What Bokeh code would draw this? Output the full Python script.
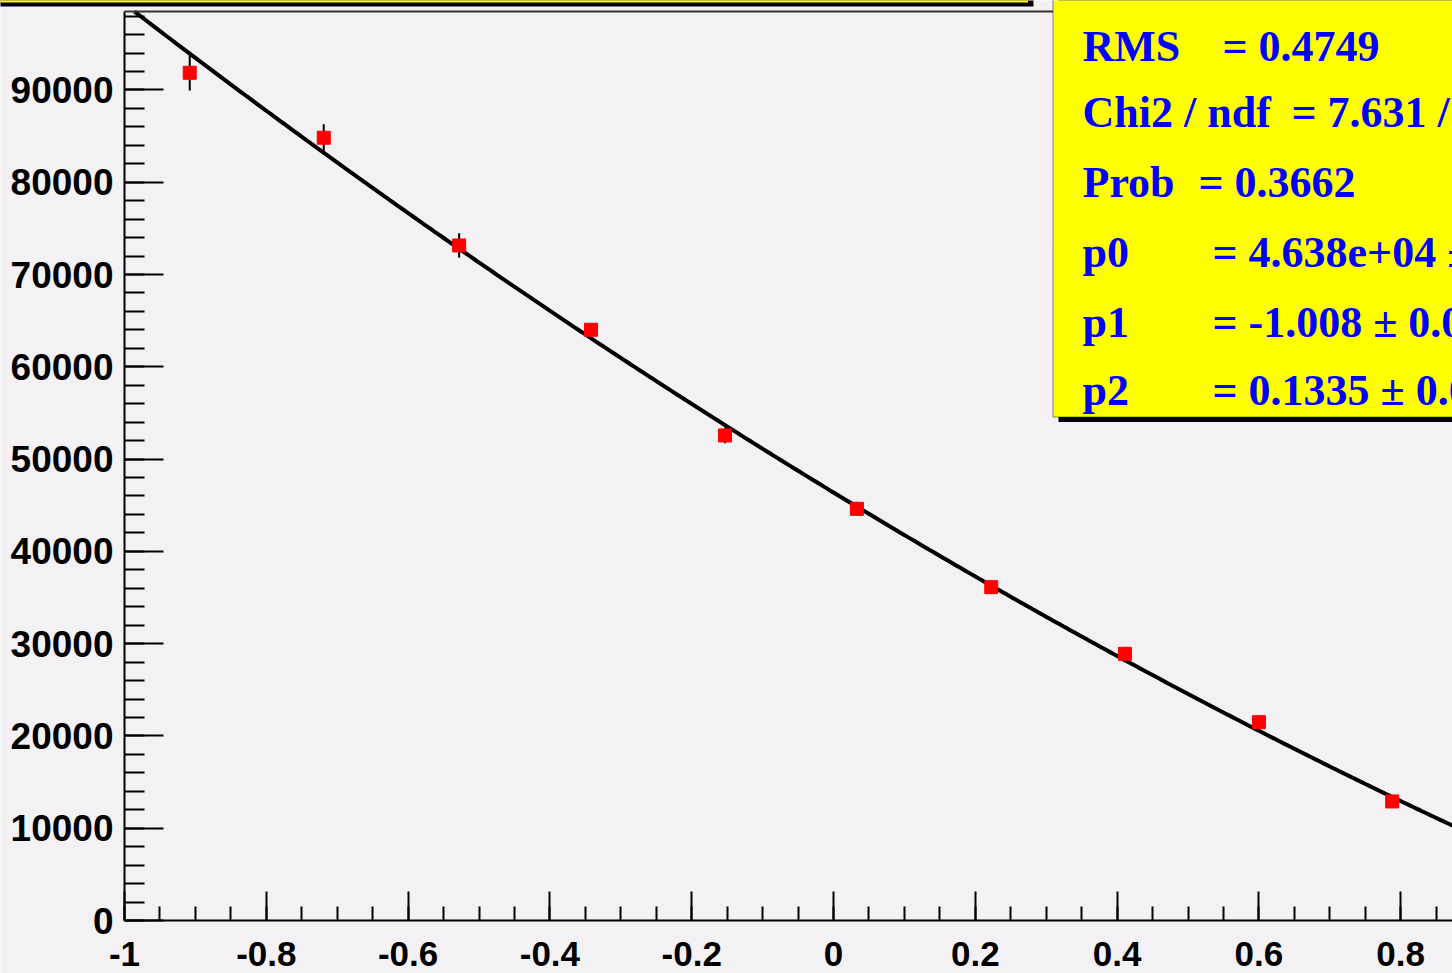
import numpy as np
from bokeh.plotting import figure
from bokeh.models import (SingleIntervalTicker, CustomJSTickFormatter, BoxAnnotation,
                          Label, Range1d)
from bokeh.embed import file_html
from bokeh.resources import INLINE

# Angular distribution: bin centres, counts and their errors
cos_theta = [-0.908, -0.719, -0.528, -0.342, -0.153, 0.033, 0.2225, 0.411, 0.600, 0.788]
counts = [91860, 84820, 73150, 64010, 52560, 44610, 36120, 28900, 21490, 12900]
count_err = [1930, 1450, 1320, 650, 850, 750, 700, 600, 550, 500]

# Fit result p0 * (1 + p1*x + p2*x^2), as quoted in the stats box
p0, p1, p2 = 4.638e4, -1.008, 0.1335

stats_names = ["RMS", "Chi2 / ndf", "Prob", "p0", "p1", "p2"]
stats_values = ["= 0.4749", "= 7.631 /", "= 0.3662",
                "= 4.638e+04 \u00b1", "= -1.008 \u00b1 0.0", "= 0.1335 \u00b1 0.0"]

BG = "#f4f1f4"
YELLOW = "#ffff00"

# Canvas layout: the plotting area covers the whole canvas and the two
# axes are pinned at x = -1 and y = 0, like a ROOT pad with its margins.
W, H = 1452, 973
AXIS_X_PX, AXIS_Y_PX, FRAME_TOP_PX = 124, 920, 11
XLO = -1.0
YTOP = 98500.0                      # upper edge of the histogram frame
SX = 709.0                          # pixels per unit of cos(theta)
SY = (AXIS_Y_PX - FRAME_TOP_PX) / YTOP


def cx(px):
    return XLO + (px - AXIS_X_PX) / SX


def cy(py):
    return (AXIS_Y_PX - py) / SY


XHI = cx(W)

p = figure(width=W, height=H,
           x_range=Range1d(cx(0), cx(W)), y_range=Range1d(cy(H), cy(0)),
           output_backend="svg", toolbar_location=None,
           min_border=0, min_border_left=0, min_border_right=0,
           min_border_top=0, min_border_bottom=0,
           background_fill_color=BG, border_fill_color=BG,
           outline_line_color=None)
p.xgrid.visible = False
p.ygrid.visible = False

# axes in the ROOT style: ticks pointing into the frame
p.xaxis.fixed_location = 0
p.yaxis.fixed_location = XLO
p.xaxis.bounds = (XLO, XHI)
p.yaxis.bounds = (0, YTOP)
p.xaxis.ticker = SingleIntervalTicker(interval=0.2, num_minor_ticks=4)
p.yaxis.ticker = SingleIntervalTicker(interval=10000, num_minor_ticks=5)
p.xaxis.formatter = CustomJSTickFormatter(code="return String(Math.round(tick*10)/10)")
p.yaxis.formatter = CustomJSTickFormatter(code="return String(Math.round(tick))")

for ax in (p.xaxis, p.yaxis):
    ax.major_tick_out = 0
    ax.minor_tick_out = 0
    ax.major_tick_line_width = 2
    ax.minor_tick_line_width = 2
    ax.major_tick_line_color = "black"
    ax.minor_tick_line_color = "black"
    ax.axis_line_width = 2
    ax.axis_line_color = "black"
    ax.major_label_text_font = "Liberation Sans"
    ax.major_label_text_font_style = "bold"
    ax.major_label_text_color = "black"

p.xaxis.major_tick_in = 29
p.xaxis.minor_tick_in = 14
p.xaxis.major_label_text_font_size = "35px"
p.xaxis.major_label_standoff = 21

p.yaxis.major_tick_in = 39
p.yaxis.minor_tick_in = 20
p.yaxis.major_label_text_font_size = "37px"
p.yaxis.major_label_standoff = 11

# top edge of the histogram frame
p.add_layout(BoxAnnotation(left=XLO, right=cx(W + 10), bottom=cy(FRAME_TOP_PX + 1),
                           top=cy(FRAME_TOP_PX - 1), fill_color="#333333",
                           fill_alpha=1.0, line_color=None))

# fitted curve
xs = np.linspace(XLO, XHI, 400)
fit = p0 * (1 + p1 * xs + p2 * xs ** 2)
fit = np.where(fit <= YTOP, fit, np.nan)
p.line(xs, fit, line_color="black", line_width=4)

# data points with vertical error bars
lo = [c - e for c, e in zip(counts, count_err)]
hi = [c + e for c, e in zip(counts, count_err)]
p.segment(x0=cos_theta, y0=lo, x1=cos_theta, y1=hi, line_color="black", line_width=2)
p.scatter(cos_theta, counts, marker="square", size=13, color="red", line_color="red")

# title pave (only its lower edge shows) with shadow
p.add_layout(BoxAnnotation(left=cx(-20), right=cx(1033), top=cy(-40), bottom=cy(6),
                           fill_color="black", fill_alpha=1.0, line_color=None))
p.add_layout(BoxAnnotation(left=cx(-20), right=cx(1027.5), top=cy(-40), bottom=cy(2),
                           fill_color=YELLOW, fill_alpha=1.0, line_color=None))

# stats pave with shadow
p.add_layout(BoxAnnotation(left=cx(1058), right=cx(W + 30), top=cy(-40), bottom=cy(421.5),
                           fill_color="black", fill_alpha=1.0, line_color=None))
p.add_layout(BoxAnnotation(left=cx(1052.5), right=cx(W + 30), top=cy(-40), bottom=cy(416.5),
                           fill_color=YELLOW, fill_alpha=1.0,
                           line_color="black", line_width=1.5))

name_x = 1082
value_x = [1222, 1291, 1198, 1212, 1212, 1212]
baselines = [46, 112, 182, 252, 322, 390]
for name, val, vx, by in zip(stats_names, stats_values, value_x, baselines):
    for txt, tx in ((name, name_x), (val, vx)):
        p.add_layout(Label(x=cx(tx), y=cy(by), text=txt,
                           text_font="Liberation Serif", text_font_style="bold",
                           text_font_size="44px", text_color="#0000ff",
                           text_align="left", text_baseline="alphabetic"))

open("out.html", "w").write(file_html(p, INLINE))
